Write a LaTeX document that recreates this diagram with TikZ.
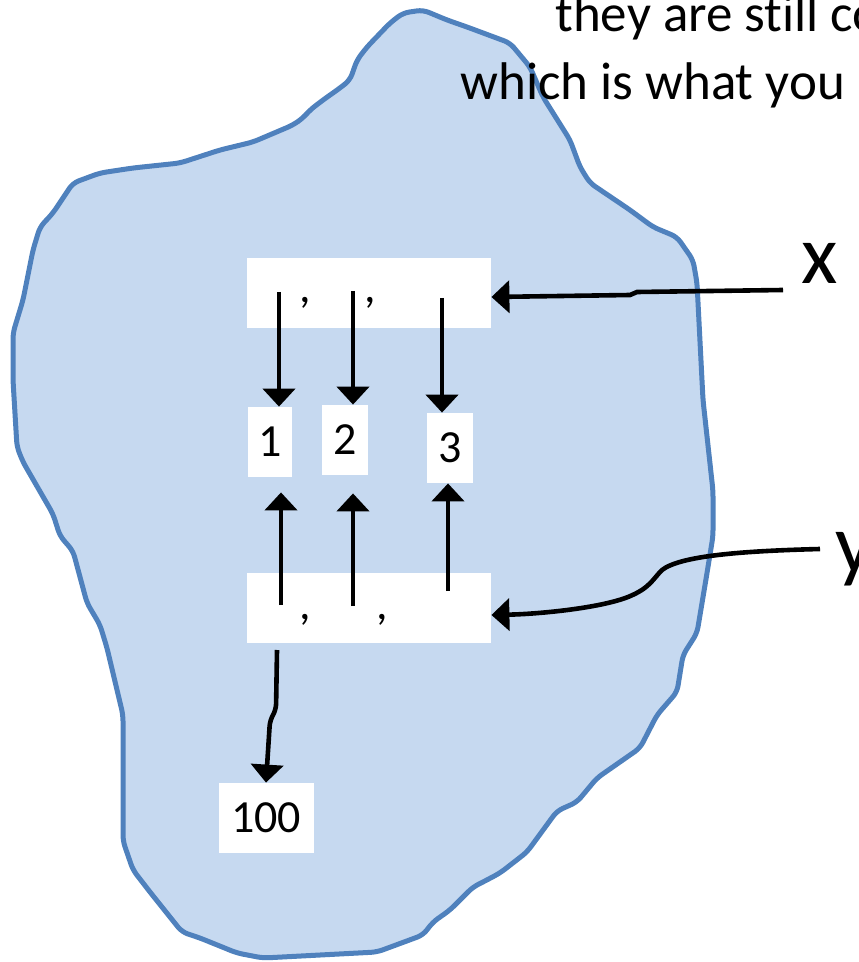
\documentclass[tikz,border=0pt]{standalone}
\usepackage{fontspec}
\setmainfont{Carlito}[Ligatures={NoCommon,NoContextual}]
\usepackage{tikz}
\usetikzlibrary{arrows.meta,positioning,calc}
\definecolor{blobBlue}{RGB}{198,217,240}
\definecolor{blobEdge}{RGB}{79,129,189}

\begin{document}
\begin{tikzpicture}[x=0.5pt, y=-0.5pt,
          listbox/.style={fill=white, minimum width=122pt, minimum height=35pt,
            inner sep=0pt},
          valbox/.style={fill=white, minimum width=23pt, minimum height=35pt,
            inner sep=0pt, font=\fontsize{23}{27}\selectfont},
          sepmark/.style={inner sep=0pt, font=\fontsize{23}{27}\selectfont},
          varname/.style={inner sep=0pt, font=\fontsize{42}{50}\selectfont},
          note/.style={inner sep=0pt, anchor=base west, font=\fontsize{26.5}{32}\selectfont},
          arr/.style={->, line width=2.3pt},
          >={Triangle[length=9pt,width=16pt]}
        ]
          \useasboundingbox (0,0) rectangle (858,962);
          \clip (0,0) rectangle (858,962);
          % the blob
          \draw[blobEdge, fill=blobBlue, line width=2.5pt, rounded corners=3pt]
            (423,10) -- (447,20) -- (467,27) -- (510,43) -- (530,67) -- (543,97)
            -- (570,140) -- (580,167) -- (590,183) -- (630,210) -- (653,227)
            -- (677,237) -- (693,260) -- (697,283) -- (703,400) -- (713,491)
            -- (713,536) -- (707,573) -- (697,633) -- (683,655) -- (677,692)
            -- (657,715) -- (640,748) -- (597,778) -- (577,802) -- (557,811)
            -- (527,852) -- (500,873) -- (483,882) -- (473,887) -- (450,910)
            -- (433,922) -- (423,935) -- (377,952) -- (263,958) -- (237,953)
            -- (200,938) -- (182,932) -- (150,892) -- (133,870) -- (123,841)
            -- (123,715) -- (107,648) -- (100,625) -- (87,603) -- (73,551)
            -- (60,536) -- (53,514) -- (23,462) -- (17,447) -- (13,380)
            -- (13,333) -- (23,300) -- (33,250) -- (40,227) -- (53,213)
            -- (73,183) -- (100,173) -- (133,168) -- (180,163) -- (220,150)
            -- (253,142) -- (293,125) -- (303,118) -- (310,110) -- (323,100)
            -- (340,88) -- (350,80) -- (357,60) -- (367,47) -- (390,23)
            -- (403,13) -- cycle;

          \node[note] (line1) at (555,32) {they are still co};
          \node[note] (line2) at (460,100) {which is what you};

          \node[listbox] (xlist) at (369,293) {};
          \node[listbox] (ylist) at (369,608) {};
          \node[sepmark] (xc1) at (305,303) {,};
          \node[sepmark] (xc2) at (370,303) {,};
          \node[sepmark] (yc1) at (305,620) {,};
          \node[sepmark] (yc2) at (382,620) {,};

          \node[valbox, minimum width=22pt] (one) at (270,442) {1};
          \node[valbox] (two) at (345,440) {2};
          \node[valbox] (three) at (450,448) {3};
          \node[valbox, minimum width=47.5pt] (hundred) at (266,818) {100};

          \node[varname] (xname) at (820,263) {x};
          \node[varname, anchor=base west] (yname) at (835,572) {y};

          \coordinate (xa) at (279,292);
          \coordinate (xb) at (353,291);
          \coordinate (xc) at (442,298);
          \coordinate (ya) at (281,605);
          \coordinate (yb) at (353,606);
          \coordinate (yc) at (448,591);
          \coordinate (yd) at (277,650);
          \coordinate (xtail) at (783,290);
          \coordinate (ytail) at (820,549);

          \draw[arr] (xa) -- (xa |- one.north);
          \draw[arr] (xb) -- (xb |- two.north);
          \draw[arr] (xc) -- (xc |- three.north);
          \draw[arr, shorten >=7.5pt] (ya) -- (ya |- one.south);
          \draw[arr, shorten >=9pt] (yb) -- (yb |- two.south);
          \draw[arr] (yc) -- (yc |- three.south);
          \draw[arr, rounded corners=3pt] (yd) -- ++(-1,60) -- ++(-6,10) -- (hundred.north);

          \draw[arr] (xtail) -- ++(-146,2) -- ++(-7,3) -- ([yshift=-2pt]xlist.east);
          \draw[arr] (ytail) .. controls (740,551) and (680,556) .. (662,570)
            .. controls (652,580) and (650,588) .. (628,597)
            .. controls (600,608) and (540,614) .. ([yshift=-3.5pt]ylist.east);
        \end{tikzpicture}
\end{document}
